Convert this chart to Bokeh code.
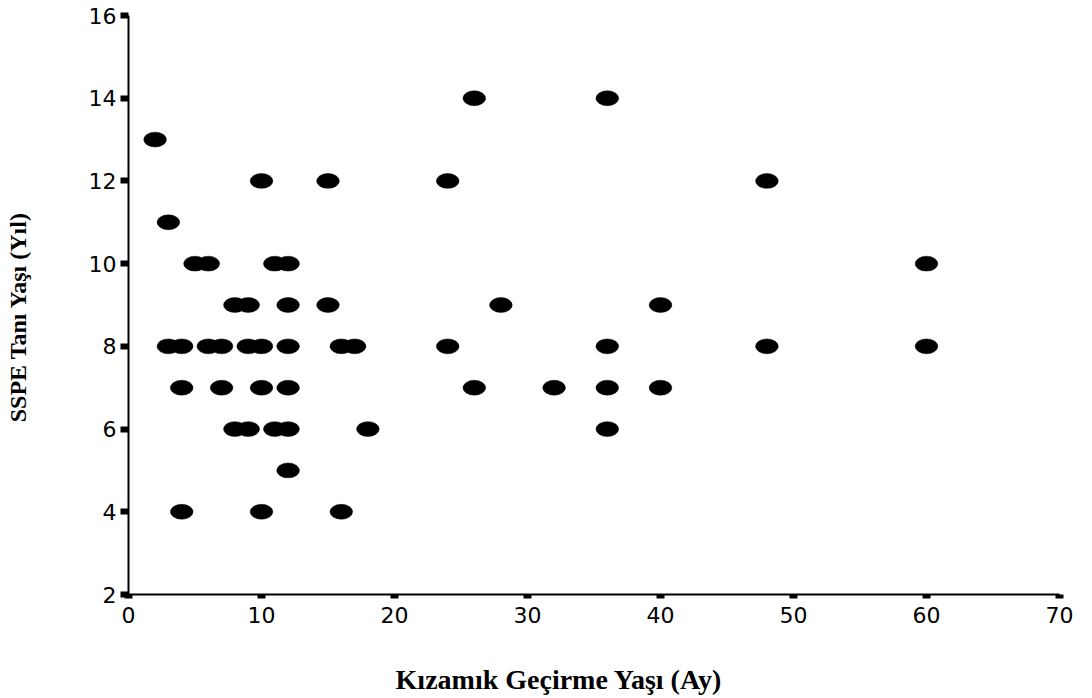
from bokeh.plotting import figure
from bokeh.models import Range1d, FixedTicker, ColumnDataSource
from bokeh.embed import file_html
from bokeh.resources import INLINE

# Kızamık geçirme yaşı (ay) vs SSPE tanı yaşı (yıl)
measles_age_months = [2, 3,
                      26, 36,
                      10, 15, 24, 48,
                      5, 6, 11, 12, 60,
                      8, 9, 12, 15, 28, 40,
                      3, 4, 6, 7, 9, 10, 12, 16, 17, 24, 36, 48, 60,
                      4, 7, 10, 12, 26, 32, 36, 40,
                      8, 9, 11, 12, 18, 36,
                      12,
                      4, 10, 16]
sspe_age_years = [13, 11,
                  14, 14,
                  12, 12, 12, 12,
                  10, 10, 10, 10, 10,
                  9, 9, 9, 9, 9, 9,
                  8, 8, 8, 8, 8, 8, 8, 8, 8, 8, 8, 8, 8,
                  7, 7, 7, 7, 7, 7, 7, 7,
                  6, 6, 6, 6, 6, 6,
                  5,
                  4, 4, 4]
x_ticks = [0, 10, 20, 30, 40, 50, 60, 70]
y_ticks = [2, 4, 6, 8, 10, 12, 14, 16]
x_title = "Kızamık Geçirme Yaşı (Ay)"
y_title = "SSPE Tanı Yaşı (Yıl)"

src = ColumnDataSource(dict(x=measles_age_months, y=sspe_age_years))

p = figure(width=1092, height=698, output_backend="svg", toolbar_location=None,
           x_range=Range1d(0, 70), y_range=Range1d(2, 16),
           min_border_left=128, min_border_right=33, min_border_top=15, min_border_bottom=104)
p.outline_line_color = None
p.xgrid.visible = False
p.ygrid.visible = False
p.background_fill_color = "white"
p.border_fill_color = "white"

p.ellipse(x="x", y="y", width=1.7, height=0.36, source=src,
          fill_color="black", line_color="black", line_width=0.5)

tick_font = "DejaVu Sans"
p.xaxis.ticker = FixedTicker(ticks=x_ticks)
p.yaxis.ticker = FixedTicker(ticks=y_ticks)
for ax in (p.xaxis, p.yaxis):
    ax.axis_line_width = 2
    ax.axis_line_color = "black"
    ax.major_tick_in = 0
    ax.minor_tick_line_color = None
    ax.major_tick_line_color = "black"
    ax.major_label_text_font = tick_font
    ax.major_label_text_font_size = "22px"
    ax.major_label_text_color = "black"
    ax.axis_label_text_font = "Liberation Serif"
    ax.axis_label_text_font_style = "bold"
    ax.axis_label_text_color = "black"
p.xaxis.major_tick_out = 4
p.xaxis.major_tick_line_width = 8
p.xaxis.major_label_standoff = 8
p.yaxis.major_tick_out = 8
p.yaxis.major_tick_line_width = 6
p.yaxis.major_label_standoff = 4

p.yaxis.axis_label = y_title + "\u00a0" * 4
p.yaxis.axis_label_text_font_size = "24px"
p.yaxis.axis_label_standoff = 55

p.xaxis.axis_label = x_title + "\u00a0" * 10
p.xaxis.axis_label_text_font_size = "28px"
p.xaxis.axis_label_standoff = 38

open("out.html", "w").write(file_html(p, INLINE))
